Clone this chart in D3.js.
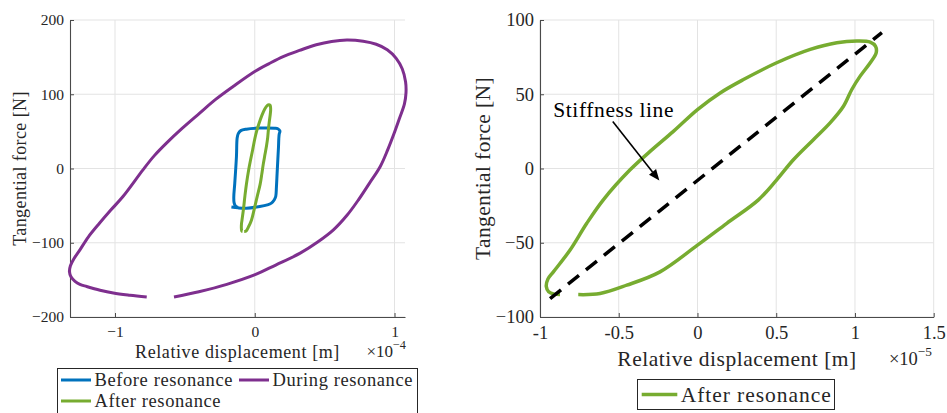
<!DOCTYPE html>
<html>
<head>
<meta charset="utf-8">
<script src="https://cdn.jsdelivr.net/npm/d3@7"></script>
<style>
  html, body { margin: 0; padding: 0; background: #fff; }
  svg { display: block; }
</style>
</head>
<body>
<svg id="fig" width="947" height="413" font-family="Liberation Serif, DejaVu Serif, serif"></svg>
<script>
// ---- Data ----------------------------------------------------------------
// Hysteresis loops: relative displacement (x) vs tangential force (y, N).
// Left panel x values are in units of 1e-4 m, right panel in 1e-5 m.

// Before resonance (x in 1e-4 m)
const beforeX = [-0.167, -0.12, -0.06, 0.036, 0.09, 0.119, 0.14, 0.150, 0.155, 0.160, 0.165, 0.170, 0.172, 0.175, 0.180,
                 0.165, 0.143, 0.036, -0.06, -0.10, -0.118, -0.126, -0.131, -0.143, -0.150, -0.148, -0.138, -0.12];
const beforeY = [-52, -53, -53.4, -51.2, -49, -46.6, -42, -37.7, -25, -6.2, 12, 29.6, 40, 46.5, 50.5,
                 53.5, 54.2, 54.4, 53, 51, 47, 41, 16.2, -19.7, -38, -46, -50.5, -52.5];

// During resonance (x in 1e-4 m)
const duringX = [-0.578, -0.40, -0.20, 0.0025, 0.15, 0.325, 0.45, 0.563, 0.66, 0.742, 0.82, 0.898, 0.951, 0.998, 1.037,
                 1.071, 1.082, 1.079, 1.055, 1.012, 0.948, 0.869, 0.776, 0.659, 0.55, 0.44, 0.32, 0.203, 0.10, 0.00, -0.155,
                 -0.28, -0.394, -0.52, -0.632, -0.72, -0.80, -0.943, -1.03, -1.11, -1.19, -1.251, -1.294, -1.319, -1.326,
                 -1.315, -1.286, -1.251, -1.203, -1.107, -1.012, -0.893, -0.773];
const duringY = [-173, -166, -156, -143, -130, -114, -99, -82.6, -63, -42.2, -20, 2.7, 25, 47.7, 68.3,
                 87.1, 101.5, 116.8, 134.3, 148.4, 159.9, 167.3, 171.3, 172.9, 171, 166.6, 159, 150.8, 141, 130.6, 110.4,
                 93, 74.6, 54, 34.2, 17, -1.8, -37.7, -56, -73.5, -92, -109.5, -121.5, -131, -139,
                 -145.8, -151.9, -156, -158.9, -164, -167.8, -170.8, -173.2];

// After resonance (x in 1e-5 m)
const afterX = [-0.757, -0.619, -0.449, -0.238, 0.0, 0.186, 0.387, 0.503, 0.609, 0.736, 0.842, 0.927, 0.98, 1.033, 1.097,
                1.135, 1.13, 1.097, 1.012, 0.885, 0.716, 0.503, 0.292, 0.144, 0.0, -0.153, -0.301, -0.428, -0.598,
                -0.703, -0.809, -0.915, -0.950, -0.960, -0.945, -0.910, -0.873];
const afterY = [-84.9, -84.2, -78.6, -69.6, -51.6, -36.9, -21.1, -7.6, 5.9, 19.4, 30.7, 41.9, 53.2, 62.2, 71.2,
                78, 82.4, 85.1, 85.8, 84.7, 80.2, 71.2, 59.9, 50.9, 39.7, 25, 11.5, -0.9, -21.1,
                -36.9, -54.9, -69.6, -74.5, -79.5, -83, -84.6, -84.9];

// Stiffness line end points (x in 1e-5 m)
const stiffX = [-0.936, 1.171];
const stiffY = [-87.6, 91.5];

// Ticks
const leftXTicks = [-1, 0, 1];
const leftYTicks = [-200, -100, 0, 100, 200];
const rightXTicks = [-1, -0.5, 0, 0.5, 1, 1.5];
const rightYTicks = [-100, -50, 0, 50, 100];

const seriesNames = ["Before resonance", "During resonance", "After resonance"];
const seriesColors = ["#0072BD", "#7E2F8E", "#77AC30"];

const SERIF = "'Liberation Serif', 'DejaVu Serif', 'Noto Serif', Times, serif";

// ---- Drawing -------------------------------------------------------------
const svg = d3.select("#fig");
const zip = (xs, ys) => xs.map((x, i) => [x, ys[i]]);

function drawAxes(g, x, y, xTicks, yTicks, opt) {
  const [x0, x1] = x.range();
  const [y0, y1] = y.range(); // y0 bottom, y1 top
  // grid
  g.append("g").selectAll("line").data(xTicks).join("line")
    .attr("x1", d => x(d)).attr("x2", d => x(d)).attr("y1", y0).attr("y2", y1)
    .attr("stroke", "#e3e3e3").attr("stroke-width", 1);
  g.append("g").selectAll("line").data(yTicks).join("line")
    .attr("x1", x0).attr("x2", x1).attr("y1", d => y(d)).attr("y2", d => y(d))
    .attr("stroke", "#e3e3e3").attr("stroke-width", 1);

  // axes (ticks pointing inward)
  const ax = d3.axisBottom(x).tickValues(xTicks).tickSizeInner(-4).tickSizeOuter(0)
    .tickFormat(opt.xFmt).tickPadding(opt.xPad);
  const gx = g.append("g").attr("transform", `translate(0,${y0})`).call(ax);
  const ay = d3.axisLeft(y).tickValues(yTicks).tickSizeInner(-4).tickSizeOuter(0)
    .tickFormat(d3.format("d")).tickPadding(opt.yPad);
  const gy = g.append("g").attr("transform", `translate(${x0},0)`).call(ay);
  [gx, gy].forEach(a => {
    a.attr("font-family", SERIF);
    a.select(".domain").attr("stroke", "#4a4a4a").attr("stroke-width", 1.1);
    a.selectAll(".tick line").attr("stroke", "#4a4a4a");
    a.selectAll(".tick text").attr("font-size", opt.tickSize).attr("fill", "#262626");
  });
}

function drawLoop(g, x, y, pts, color, width) {
  const line = d3.line().x(d => x(d[0])).y(d => y(d[1])).curve(d3.curveCatmullRom.alpha(0.5));
  g.append("path").attr("d", line(pts)).attr("fill", "none")
    .attr("stroke", color).attr("stroke-width", width)
    .attr("stroke-linejoin", "round").attr("stroke-linecap", "butt");
}

function expLabel(g, xr, yb, exp, size) {
  const t = g.append("text").attr("x", xr).attr("y", yb).attr("text-anchor", "end")
    .attr("font-size", size).attr("fill", "#262626");
  t.append("tspan").text("×10");
  t.append("tspan").attr("dy", -size * 0.45).attr("font-size", size * 0.72).text("−" + exp);
}

// ---------------- Left panel ----------------
{
  const g = svg.append("g");
  const x = d3.scaleLinear().domain([-1.322, 1.075]).range([70, 405]);
  const y = d3.scaleLinear().domain([-200, 200]).range([317, 20]);
  drawAxes(g, x, y, leftXTicks, leftYTicks, { xFmt: d3.format("d"), tickSize: 15.5, xPad: 9, yPad: 6 });

  drawLoop(g, x, y, zip(duringX, duringY), seriesColors[1], 3);
  drawLoop(g, x, y, zip(beforeX, beforeY), seriesColors[0], 3);
  drawLoop(g, x, y, zip(afterX.map(v => v / 10), afterY), seriesColors[2], 3);

  g.append("text").attr("x", 237.5).attr("y", 358).attr("text-anchor", "middle")
    .attr("font-size", 18).attr("letter-spacing", 0.6).text("Relative displacement [m]");
  expLabel(g, 406, 357, 4, 17);
  g.append("text").attr("transform", "translate(26,168.5) rotate(-90)").attr("text-anchor", "middle")
    .attr("font-size", 18).attr("letter-spacing", 0.4).text("Tangential force [N]");

  // legend
  const lg = g.append("g");
  lg.append("rect").attr("x", 57.5).attr("y", 368.5).attr("width", 360).attr("height", 60)
    .attr("fill", "#fff").attr("stroke", "#262626").attr("stroke-width", 1);
  const items = [
    { i: 0, x: 61, y: 380 },
    { i: 1, x: 239, y: 380 },
    { i: 2, x: 61, y: 401 }
  ];
  items.forEach(it => {
    lg.append("line").attr("x1", it.x).attr("x2", it.x + 30).attr("y1", it.y).attr("y2", it.y)
      .attr("stroke", seriesColors[it.i]).attr("stroke-width", 3);
    lg.append("text").attr("x", it.x + 33.5).attr("y", it.y + 6).attr("font-size", 18.5)
      .attr("letter-spacing", 0.6).text(seriesNames[it.i]);
  });
}

// ---------------- Right panel ----------------
{
  const g = svg.append("g");
  const x = d3.scaleLinear().domain([-1, 1.5]).range([540, 933.7]);
  const y = d3.scaleLinear().domain([-100, 100]).range([317, 20]);
  drawAxes(g, x, y, rightXTicks, rightYTicks, { xFmt: d => String(d), tickSize: 18.5, xPad: 9, yPad: 6 });

  drawLoop(g, x, y, zip(afterX, afterY), seriesColors[2], 3.5);

  // stiffness line
  g.append("path").attr("d", d3.line().x(d => x(d[0])).y(d => y(d[1]))(zip(stiffX, stiffY)))
    .attr("fill", "none").attr("stroke", "#000").attr("stroke-width", 3.5)
    .attr("stroke-dasharray", "14,9");

  // annotation
  const ax0 = x(-0.538), ay0 = y(31.6), ax1 = x(-0.242), ay1 = y(-8.1);
  const ang = Math.atan2(ay1 - ay0, ax1 - ax0);
  const hl = 11, hw = 4.5;
  const bx = ax1 - hl * Math.cos(ang), by = ay1 - hl * Math.sin(ang);
  g.append("line").attr("x1", ax0).attr("y1", ay0).attr("x2", bx).attr("y2", by)
    .attr("stroke", "#000").attr("stroke-width", 1.6);
  g.append("path").attr("d", `M${ax1},${ay1} L${bx + hw * Math.sin(ang)},${by - hw * Math.cos(ang)} L${bx - hw * Math.sin(ang)},${by + hw * Math.cos(ang)} Z`)
    .attr("fill", "#000");
  g.append("text").attr("x", x(-0.916)).attr("y", y(34.6)).attr("font-size", 21.5)
    .attr("letter-spacing", 0.6).attr("fill", "#000").text("Stiffness line");

  g.append("text").attr("x", 737).attr("y", 366).attr("text-anchor", "middle")
    .attr("font-size", 21.5).attr("letter-spacing", 0.5).text("Relative displacement [m]");
  expLabel(g, 932, 364.5, 5, 18.5);
  g.append("text").attr("transform", "translate(490,168.5) rotate(-90)").attr("text-anchor", "middle")
    .attr("font-size", 21.5).attr("letter-spacing", 0.4).text("Tangential force [N]");

  // legend
  const lg = g.append("g");
  lg.append("rect").attr("x", 637.5).attr("y", 379.5).attr("width", 197).attr("height", 30)
    .attr("fill", "#fff").attr("stroke", "#262626").attr("stroke-width", 1);
  lg.append("line").attr("x1", 641.7).attr("x2", 677.3).attr("y1", 394.5).attr("y2", 394.5)
    .attr("stroke", seriesColors[2]).attr("stroke-width", 3.5);
  lg.append("text").attr("x", 680.7).attr("y", 401.5).attr("font-size", 21.5)
    .attr("letter-spacing", 0.95).text(seriesNames[2]);
}

// all text in a serif face, dark grey by default
svg.selectAll("text").style("font-family", SERIF).each(function () {
  if (!this.getAttribute("fill")) this.setAttribute("fill", "#262626");
});
</script>
</body>
</html>
